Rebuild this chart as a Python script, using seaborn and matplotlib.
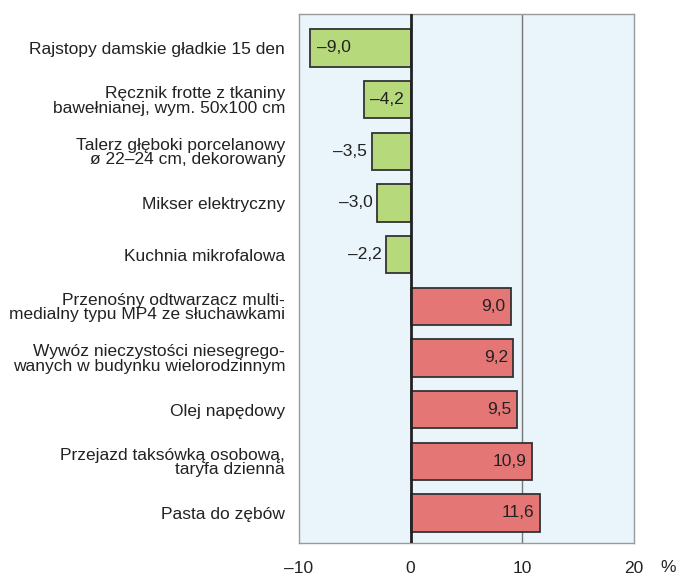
import numpy as np
import pandas as pd
import matplotlib
matplotlib.use("Agg")
import matplotlib.pyplot as plt
import seaborn as sns

products = [
    "Rajstopy damskie gładkie 15 den",
    "Ręcznik frotte z tkaniny\nbawełnianej, wym. 50x100 cm",
    "Talerz głęboki porcelanowy\nø 22–24 cm, dekorowany",
    "Mikser elektryczny",
    "Kuchnia mikrofalowa",
    "Przenośny odtwarzacz multi-\nmedialny typu MP4 ze słuchawkami",
    "Wywóz nieczystości niesegrego-\nwanych w budynku wielorodzinnym",
    "Olej napędowy",
    "Przejazd taksówką osobową,\ntaryfa dzienna",
    "Pasta do zębów",
]
change = [-9.0, -4.2, -3.5, -3.0, -2.2, 9.0, 9.2, 9.5, 10.9, 11.6]
x_ticks = [-10, 0, 10, 20]

df = pd.DataFrame({"product": products, "change": change})
df["sign"] = np.where(df["change"] < 0, "neg", "pos")

sns.set_style("white")
plt.rcParams["font.family"] = ["Liberation Sans", "DejaVu Sans"]
fs = 12.5

fig = plt.figure(figsize=(6.78, 5.77), dpi=100)
ax = fig.add_axes([0.441, 0.059, 0.494, 0.917])
ax.set_facecolor("#e9f4fb")

sns.barplot(data=df, x="change", y="product", hue="sign", orient="h",
            palette={"neg": "#b6d97b", "pos": "#e57676"}, legend=False, saturation=1,
            width=0.72, edgecolor="#333333", linewidth=1.3, ax=ax, zorder=3)

ax.axvline(10, color="#777777", lw=1.0, zorder=1)
ax.axvline(0, color="#222222", lw=2.0, zorder=4)

for i, v in enumerate(change):
    txt = f"{abs(v):.1f}".replace(".", ",")
    if v < 0:
        txt = "–" + txt
        if v <= -4:
            ax.text(v + 0.6, i, txt, ha="left", va="center", fontsize=fs, color="#222222", zorder=5)
        else:
            ax.text(v - 0.4, i, txt, ha="right", va="center", fontsize=fs, color="#222222", zorder=5)
    else:
        ax.text(v - 0.5, i, txt, ha="right", va="center", fontsize=fs, color="#222222", zorder=5)

ax.set_xlim(-10, 20)
ax.set_ylim(9.58, -0.66)
ax.set_xticks(x_ticks)
ax.set_xticklabels([str(t).replace("-", "–") for t in x_ticks])
ax.set_xlabel("")
ax.set_ylabel("")
ax.tick_params(axis="x", direction="out", length=7, width=1.0, color="#555555",
               pad=6, labelsize=fs, labelcolor="#222222")
ax.tick_params(axis="y", length=0, pad=10, labelsize=fs, labelcolor="#222222")
for lbl in ax.get_yticklabels():
    lbl.set_linespacing(0.95)
for s in ax.spines.values():
    s.set_color("#9a9a9a")
    s.set_linewidth(1.0)

fig.text(668 / 678, 1 - 568 / 577, "%", ha="center", va="center", fontsize=fs, color="#222222")

fig.savefig("out.png", dpi=100)
